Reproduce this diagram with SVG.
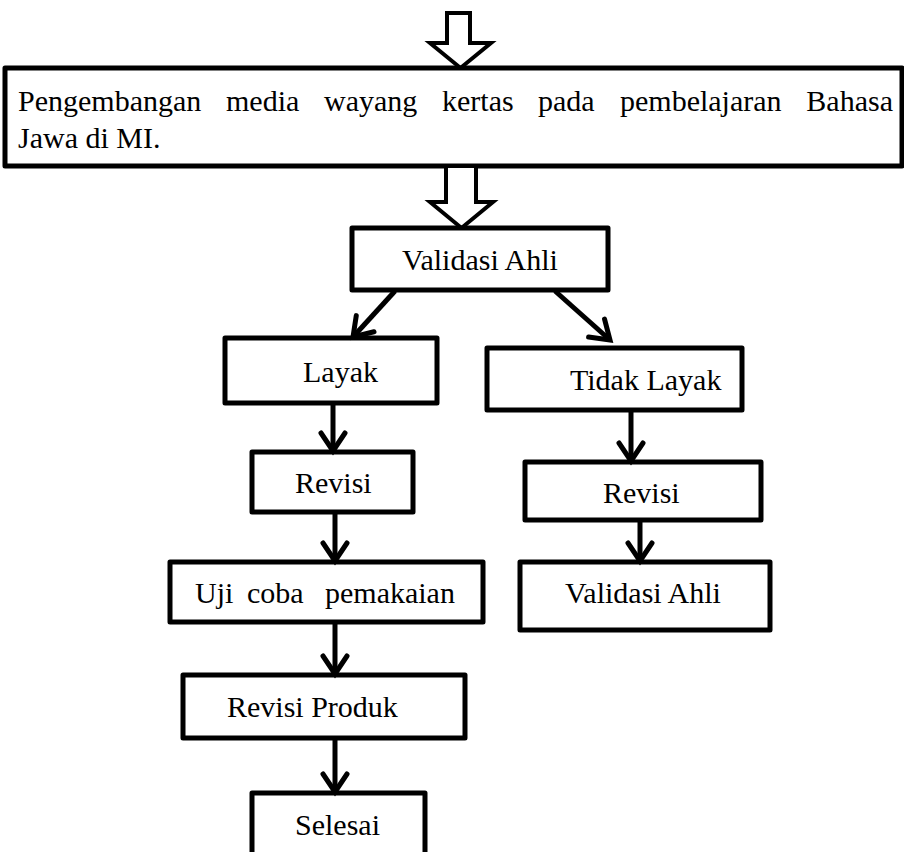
<svg xmlns="http://www.w3.org/2000/svg" width="904" height="852" viewBox="0 0 904 852">
<defs>
<style>
.box{fill:#fff;stroke:#000;stroke-width:5;stroke-linejoin:round}
.blk{fill:#fff;stroke:#000;stroke-width:4;stroke-linejoin:miter}
.t{font-family:"Liberation Serif","Times New Roman",serif;font-size:30px;fill:#000}
.c{stroke:#000;stroke-width:5;fill:none}
</style>
<marker id="ah" markerUnits="userSpaceOnUse" orient="auto" markerWidth="30" markerHeight="30" refX="0" refY="0" viewBox="-22 -15 26 30" overflow="visible">
<path d="M-18,-12 L0,0 L-18,12" fill="none" stroke="#000" stroke-width="5" stroke-linecap="round" stroke-linejoin="miter"/>
</marker>
</defs>
<rect width="904" height="852" fill="#fff"/>

<g id="arrow-top">
<polygon class="blk" points="447,13 470,13 470,43 491,43 460.5,68 430,43 447,43"/>
</g>

<g id="node-main">
<rect class="box" x="5" y="68" width="897" height="98"/>
<text class="t" y="111"><tspan x="18">Pengembangan</tspan><tspan x="226">media</tspan><tspan x="324">wayang</tspan><tspan x="442">kertas</tspan><tspan x="538">pada</tspan><tspan x="620">pembelajaran</tspan></text>
<text class="t" x="893" y="111" text-anchor="end">Bahasa</text>
<text class="t" x="18" y="148">Jawa di MI.</text>
</g>

<g id="arrow-mid">
<polygon class="blk" points="446,166 476,166 476,202 493,202 461.5,228 430,202 446,202"/>
</g>

<g id="node-validasi">
<rect class="box" x="352" y="228" width="256" height="62"/>
<text class="t" x="480" y="270" text-anchor="middle">Validasi Ahli</text>
</g>

<g id="node-layak">
<rect class="box" x="225" y="338" width="212" height="65"/>
<text class="t" x="303" y="382">Layak</text>
</g>

<g id="node-tidak-layak">
<rect class="box" x="487" y="348" width="255" height="62"/>
<text class="t" x="570" y="390">Tidak Layak</text>
</g>

<g id="node-revisi-1">
<rect class="box" x="252" y="452" width="161" height="60"/>
<text class="t" x="295" y="493">Revisi</text>
</g>

<g id="node-revisi-2">
<rect class="box" x="525" y="462" width="236" height="58"/>
<text class="t" x="603" y="503">Revisi</text>
</g>

<g id="node-uji">
<rect class="box" x="170" y="562" width="313" height="60"/>
<text class="t" y="603"><tspan x="195">Uji</tspan><tspan x="247">coba</tspan><tspan x="325">pemakaian</tspan></text>
</g>

<g id="node-validasi-2">
<rect class="box" x="520" y="562" width="250" height="68"/>
<text class="t" x="565" y="603">Validasi Ahli</text>
</g>

<g id="node-revisi-produk">
<rect class="box" x="183" y="675" width="282" height="63"/>
<text class="t" x="227" y="717">Revisi Produk</text>
</g>

<g id="node-selesai">
<rect class="box" x="252" y="793" width="173" height="80"/>
<text class="t" x="295" y="835">Selesai</text>
</g>

<g id="connectors">
<line class="c" x1="395" y1="291" x2="353" y2="337" marker-end="url(#ah)"/>
<line class="c" x1="555" y1="291" x2="610" y2="340" marker-end="url(#ah)"/>
<line class="c" x1="333" y1="403" x2="333" y2="451" marker-end="url(#ah)"/>
<line class="c" x1="335" y1="512" x2="335" y2="561" marker-end="url(#ah)"/>
<line class="c" x1="335" y1="622" x2="335" y2="674" marker-end="url(#ah)"/>
<line class="c" x1="335" y1="738" x2="335" y2="792" marker-end="url(#ah)"/>
<line class="c" x1="631" y1="410" x2="631" y2="461" marker-end="url(#ah)"/>
<line class="c" x1="640" y1="520" x2="640" y2="561" marker-end="url(#ah)"/>
</g>
</svg>
